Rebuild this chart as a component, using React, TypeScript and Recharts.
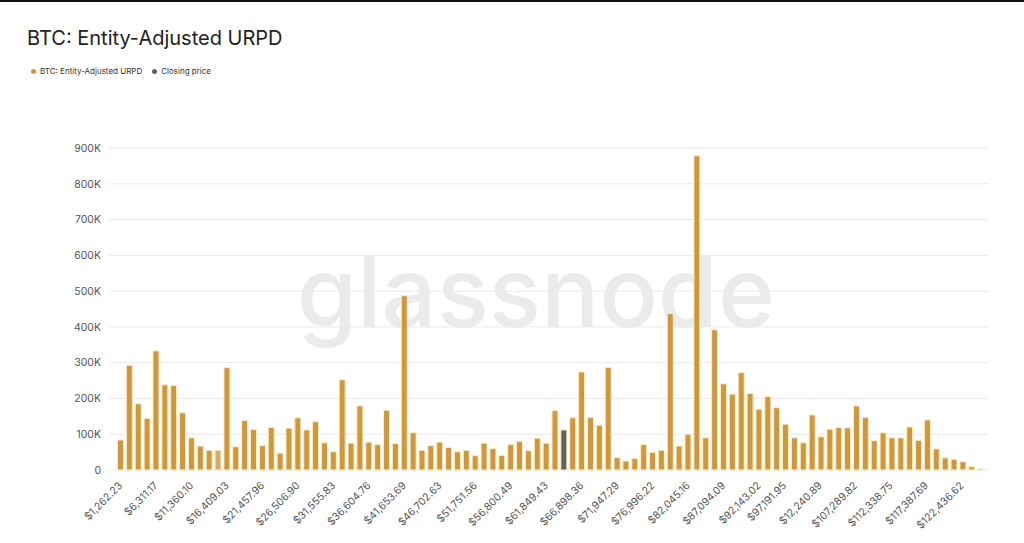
import React from "react"
import { BarChart, Bar, Cell, CartesianGrid, XAxis, YAxis, Legend, Text } from "recharts"

const priceBins = [
  "$1,262.23", "$2,524.47", "$3,786.70", "$5,048.93", "$6,311.17", "$7,573.40", "$8,835.63", "$10,097.87",
  "$11,360.10", "$12,622.33", "$13,884.57", "$15,146.80", "$16,409.03", "$17,671.26", "$18,933.50", "$20,195.73",
  "$21,457.96", "$22,720.20", "$23,982.43", "$25,244.66", "$26,506.90", "$27,769.13", "$29,031.36", "$30,293.60",
  "$31,555.83", "$32,818.06", "$34,080.30", "$35,342.53", "$36,604.76", "$37,867.00", "$39,129.23", "$40,391.46",
  "$41,653.69", "$42,915.93", "$44,178.16", "$45,440.40", "$46,702.63", "$47,964.86", "$49,227.09", "$50,489.33",
  "$51,751.56", "$53,013.79", "$54,276.03", "$55,538.26", "$56,800.49", "$58,062.73", "$59,324.96", "$60,587.19",
  "$61,849.43", "$63,111.66", "$64,373.89", "$65,636.13", "$66,898.36", "$68,160.59", "$69,422.83", "$70,685.06",
  "$71,947.29", "$73,209.53", "$74,471.76", "$75,733.99", "$76,996.22", "$78,258.46", "$79,520.69", "$80,782.92",
  "$82,045.16", "$83,307.39", "$84,569.62", "$85,831.86", "$87,094.09", "$88,356.32", "$89,618.56", "$90,880.79",
  "$92,143.02", "$93,405.26", "$94,667.49", "$95,929.72", "$97,191.95", "$98,454.19", "$99,716.42", "$100,978.66",
  "$12,240.89", "$103,503.12", "$104,765.36", "$106,027.59", "$107,289.82", "$108,552.06", "$109,814.29", "$111,076.52",
  "$112,338.75", "$113,600.99", "$114,863.22", "$116,125.45", "$117,387.69", "$118,649.92", "$119,912.15", "$121,174.39",
  "$122,436.62", "$123,698.85",
]

const urpd = [
  84, 293, 185, 144, 333, 238, 236, 160, 90, 67, 55, 55, 286, 65, 138, 113,
  68, 119, 47, 117, 146, 112, 135, 76, 51, 252, 75, 179, 78, 71, 167, 74,
  487, 104, 55, 68, 78, 63, 51, 55, 40, 75, 60, 41, 71, 80, 54, 89,
  75, 166, null, 146, 274, 147, 125, 287, 35, 25, 32, 71, 49, 55, 437, 67,
  100, 878, 90, 392, 241, 212, 272, 214, 170, 205, 174, 128, 90, 76, 154, 93,
  114, 119, 118, 179, 147, 82, 104, 90, 90, 120, 83, 140, 59, 34, 30, 23,
  9, 3,
]

// only the bin holding the closing price has a value
const closingPrice: Record<number, number> = { 50: 112 }
const fadedBin = 11

const yTicks = [0, 100000, 200000, 300000, 400000, 500000, 600000, 700000, 800000, 900000]

const data = priceBins.map((bin, i) => ({
  bin,
  urpd: urpd[i] === null ? null : urpd[i]! * 1000,
  closing: closingPrice[i] ? closingPrice[i] * 1000 : null,
}))

const font = "Inter, sans-serif"
const formatK = (v: number) => (v === 0 ? "0" : `${v / 1000}K`)

// labels from $97,191.95 on sit about 10px left of their bars in the source image
const BinTick = ({ x, y, payload }: any) => (
  <Text
    x={payload.index >= 76 ? x - 10 : x}
    y={y}
    dx={-3}
    dy={3}
    angle={-45}
    textAnchor="end"
    verticalAnchor="start"
    fontSize={10.4}
    fill="#555"
    fontFamily={font}
  >
    {payload.value}
  </Text>
)

export default function App() {
  return (
    <div style={{ position: "absolute", left: 0, top: 0, width: 1024, height: 543, background: "#fff", overflow: "hidden", fontFamily: font }}>
      <div style={{ position: "absolute", left: 0, top: 0, width: 1024, height: 2, background: "#111" }} />
      <div style={{ position: "absolute", left: 27, top: 26, fontSize: 20, color: "#222", lineHeight: "24px" }}>
        BTC: Entity-Adjusted URPD
      </div>
      <div style={{ position: "absolute", left: 297, top: 232, fontSize: 97, fontWeight: 500, color: "#ebebeb", lineHeight: "120px" }}>
        glassnode
      </div>
      <div style={{ position: "absolute", left: 0, top: 0 }}>
        <BarChart width={1024} height={543} data={data} margin={{ top: 130, right: 36, bottom: 0, left: 0 }}>
          <CartesianGrid vertical={false} stroke="#e9e9ec" />
          <XAxis
            dataKey="bin"
            interval={3}
            height={73}
            tickLine={false}
            axisLine={false}
            padding={{ left: 7.5, right: 2.5 }}
            tick={BinTick}
          />
          <YAxis
            width={109}
            domain={[0, 900000]}
            ticks={yTicks}
            tickFormatter={formatK}
            tickLine={false}
            axisLine={false}
            tick={{ fontSize: 10.5, fill: "#555", fontFamily: font }}
          />
          <Legend
            verticalAlign="top"
            align="left"
            iconType="circle"
            iconSize={5}
            wrapperStyle={{ position: "absolute", top: 66, left: 31, width: 300, height: 18, fontSize: 8 }}
            formatter={(value: string) => <span style={{ color: "#333" }}>{value}</span>}
          />
          <Bar dataKey="urpd" name="BTC: Entity-Adjusted URPD" stackId="a" fill="#cf9740" stroke="#fdeebd" strokeWidth={1} barSize={6} isAnimationActive={false}>
            {data.map((_, i) => (
              <Cell key={i} fill={i === fadedBin ? "#d1ad70" : "#cf9740"} />
            ))}
          </Bar>
          <Bar dataKey="closing" name="Closing price" stackId="a" fill="#5f6265" stroke="#fdeebd" strokeWidth={1} barSize={6} isAnimationActive={false} />
        </BarChart>
      </div>
    </div>
  )
}
